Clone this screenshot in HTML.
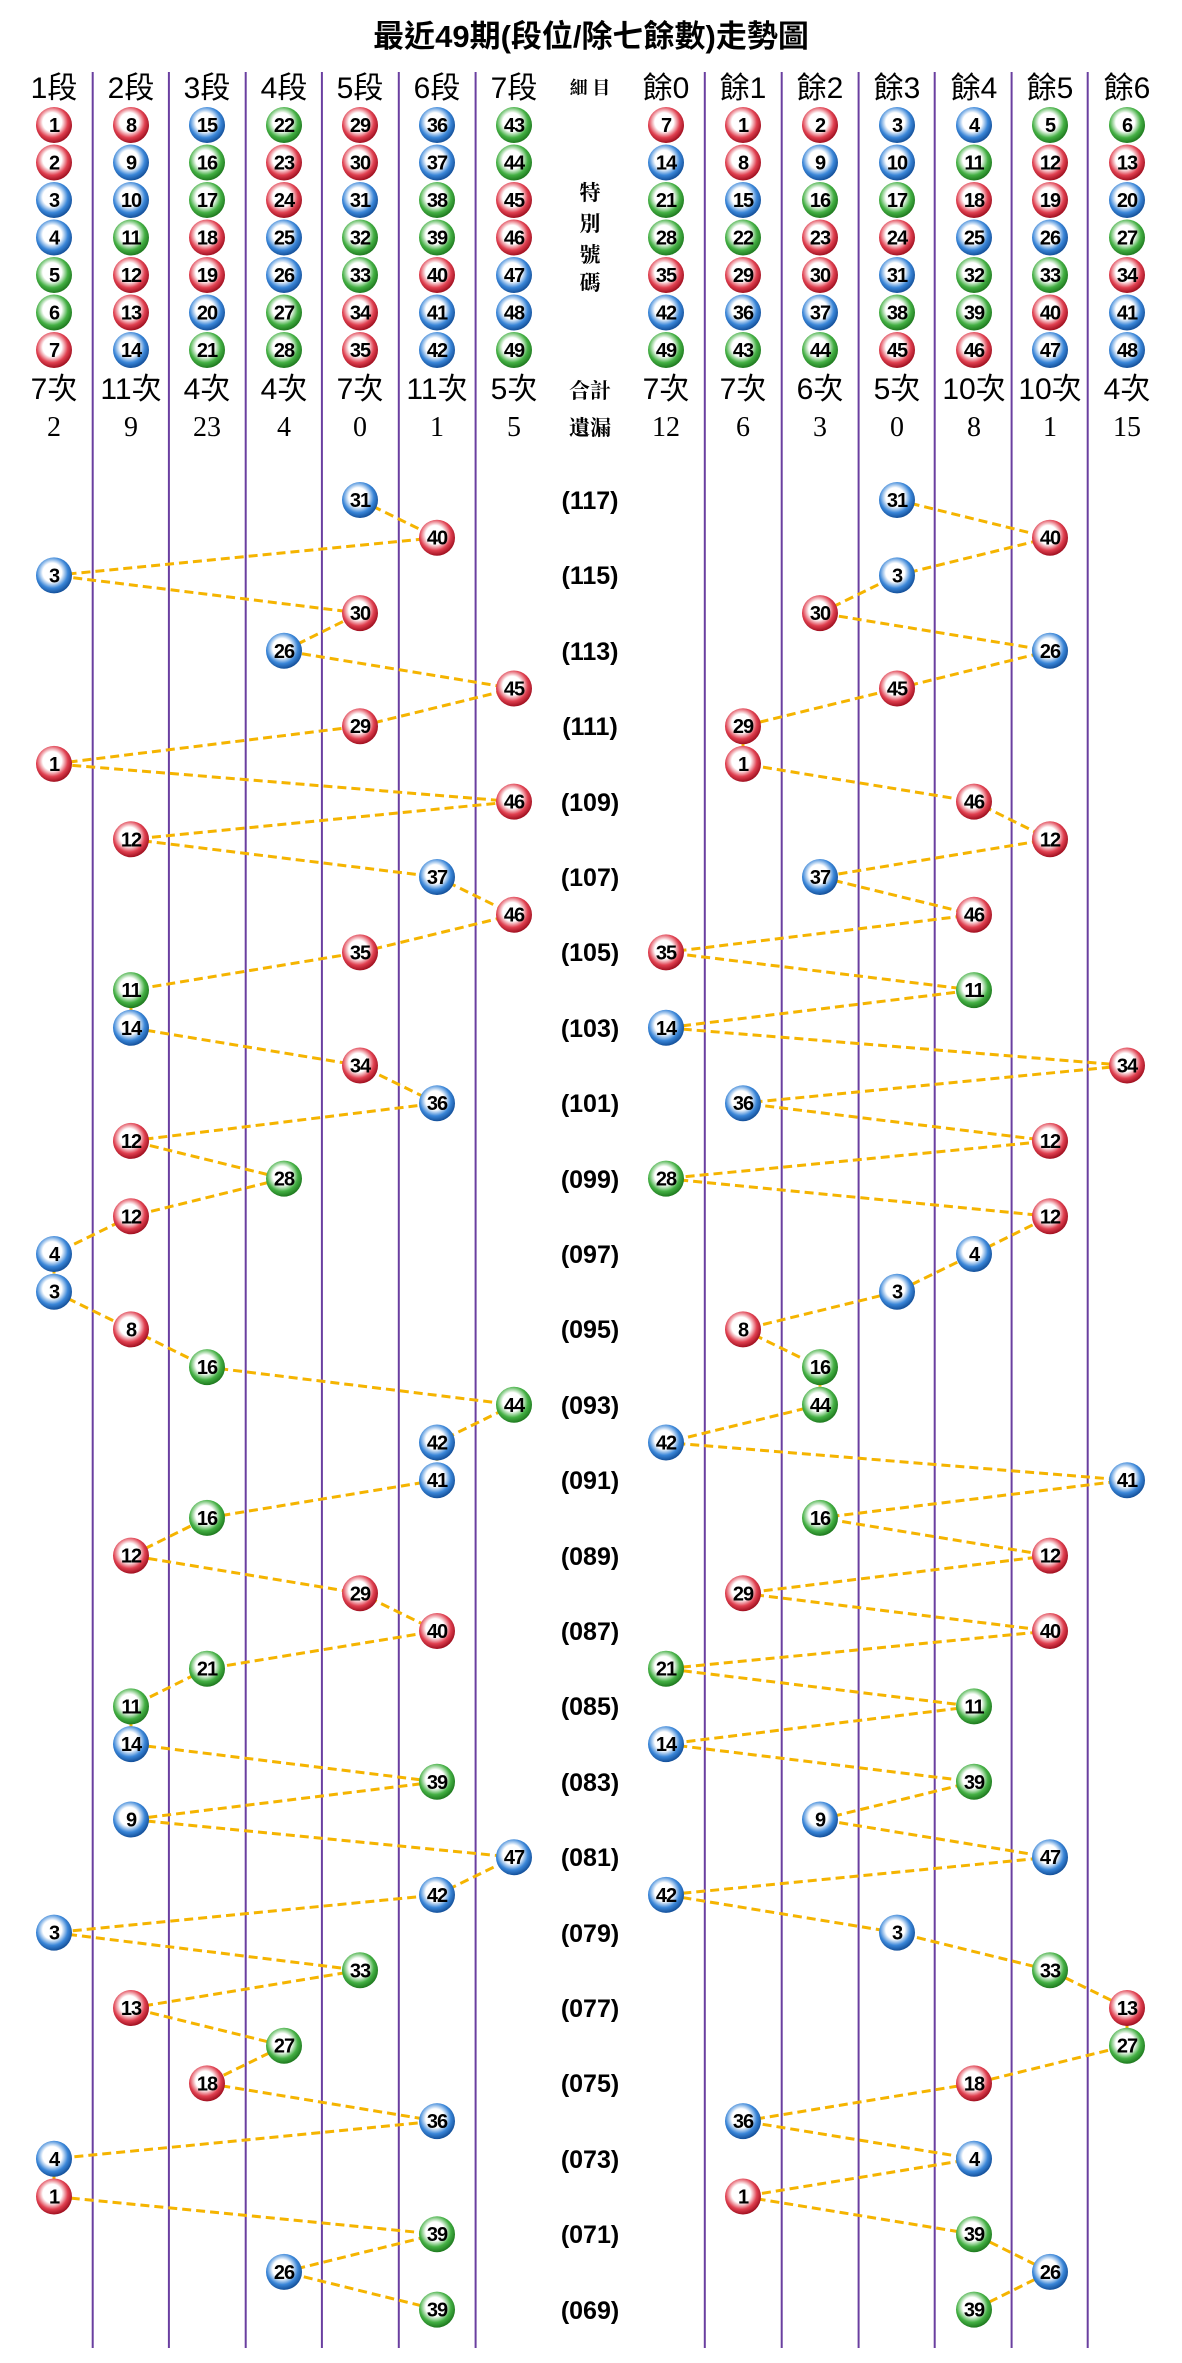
<!DOCTYPE html>
<html><head><meta charset="utf-8"><style>
html,body{margin:0;padding:0;background:#fff}
svg{display:block}
.n{font:bold 20px "Liberation Sans Narrow","Liberation Sans",sans-serif;letter-spacing:-1px;text-anchor:middle;fill:#000}
.h{font:30px "Liberation Sans","Noto Sans CJK TC",sans-serif;text-anchor:middle}
.s{font:bold 21px "Liberation Serif","Noto Serif CJK SC",serif;text-anchor:middle}
.m{font:28px "Liberation Serif",serif;text-anchor:middle}
.p{font:bold 25px "Liberation Sans",sans-serif;text-anchor:middle}
.t{font:bold 31px "Liberation Sans","Noto Sans CJK TC",sans-serif;text-anchor:middle}
.R{fill:url(#R)}.B{fill:url(#B)}.G{fill:url(#G)}
</style></head><body>
<svg width="1182" height="2363" viewBox="0 0 1182 2363" xmlns="http://www.w3.org/2000/svg">
<defs>
<radialGradient id="R" cx="45%" cy="42%" r="58%"><stop offset="0" stop-color="#fff"/><stop offset=".45" stop-color="#fff"/><stop offset=".75" stop-color="#e04050"/><stop offset="1" stop-color="#a01020"/></radialGradient>
<radialGradient id="B" cx="45%" cy="42%" r="58%"><stop offset="0" stop-color="#fff"/><stop offset=".45" stop-color="#fff"/><stop offset=".75" stop-color="#3a86d8"/><stop offset="1" stop-color="#14509a"/></radialGradient>
<radialGradient id="G" cx="45%" cy="42%" r="58%"><stop offset="0" stop-color="#fff"/><stop offset=".45" stop-color="#fff"/><stop offset=".75" stop-color="#44b044"/><stop offset="1" stop-color="#1f7a1f"/></radialGradient>
</defs>
<text class="t" x="591" y="47">最近49期(段位/除七餘數)走勢圖</text>
<g stroke="#6a3fa0" stroke-width="2">
<line x1="92.7" y1="72" x2="92.7" y2="2348"/><line x1="168.9" y1="72" x2="168.9" y2="2348"/><line x1="245.7" y1="72" x2="245.7" y2="2348"/><line x1="321.9" y1="72" x2="321.9" y2="2348"/><line x1="398.8" y1="72" x2="398.8" y2="2348"/><line x1="475.6" y1="72" x2="475.6" y2="2348"/>
<line x1="704.8" y1="72" x2="704.8" y2="2348"/><line x1="781.7" y1="72" x2="781.7" y2="2348"/><line x1="858.6" y1="72" x2="858.6" y2="2348"/><line x1="934.7" y1="72" x2="934.7" y2="2348"/><line x1="1011.6" y1="72" x2="1011.6" y2="2348"/><line x1="1087.7" y1="72" x2="1087.7" y2="2348"/>
</g>
<g class="h">
<text x="54" y="98">1段</text><text x="131" y="98">2段</text><text x="207" y="98">3段</text><text x="284" y="98">4段</text><text x="360" y="98">5段</text><text x="437" y="98">6段</text><text x="514" y="98">7段</text>
<text x="666" y="98">餘0</text><text x="743" y="98">餘1</text><text x="820" y="98">餘2</text><text x="897" y="98">餘3</text><text x="974" y="98">餘4</text><text x="1050" y="98">餘5</text><text x="1127" y="98">餘6</text>
<text x="54" y="399">7次</text><text x="131" y="399">11次</text><text x="207" y="399">4次</text><text x="284" y="399">4次</text><text x="360" y="399">7次</text><text x="437" y="399">11次</text><text x="514" y="399">5次</text>
<text x="666" y="399">7次</text><text x="743" y="399">7次</text><text x="820" y="399">6次</text><text x="897" y="399">5次</text><text x="974" y="399">10次</text><text x="1050" y="399">10次</text><text x="1127" y="399">4次</text>
</g>
<g class="m">
<text x="54" y="436">2</text><text x="131" y="436">9</text><text x="207" y="436">23</text><text x="284" y="436">4</text><text x="360" y="436">0</text><text x="437" y="436">1</text><text x="514" y="436">5</text>
<text x="666" y="436">12</text><text x="743" y="436">6</text><text x="820" y="436">3</text><text x="897" y="436">0</text><text x="974" y="436">8</text><text x="1050" y="436">1</text><text x="1127" y="436">15</text>
</g>
<g class="s">
<text x="590" y="94" style="font-size:18px">細 目</text>
<text x="590" y="200">特</text><text x="590" y="231">別</text><text x="590" y="262">號</text><text x="590" y="290">碼</text>
<text x="590" y="398">合計</text><text x="590" y="435">遺漏</text>
</g>
<g>
<circle class="R" cx="54" cy="125" r="18"/><text class="n" x="54" y="132">1</text>
<circle class="R" cx="54" cy="162.5" r="18"/><text class="n" x="54" y="169.5">2</text>
<circle class="B" cx="54" cy="200" r="18"/><text class="n" x="54" y="207">3</text>
<circle class="B" cx="54" cy="237.5" r="18"/><text class="n" x="54" y="244.5">4</text>
<circle class="G" cx="54" cy="275" r="18"/><text class="n" x="54" y="282">5</text>
<circle class="G" cx="54" cy="312.5" r="18"/><text class="n" x="54" y="319.5">6</text>
<circle class="R" cx="54" cy="350" r="18"/><text class="n" x="54" y="357">7</text>
<circle class="R" cx="131" cy="125" r="18"/><text class="n" x="131" y="132">8</text>
<circle class="B" cx="131" cy="162.5" r="18"/><text class="n" x="131" y="169.5">9</text>
<circle class="B" cx="131" cy="200" r="18"/><text class="n" x="131" y="207">10</text>
<circle class="G" cx="131" cy="237.5" r="18"/><text class="n" x="131" y="244.5">11</text>
<circle class="R" cx="131" cy="275" r="18"/><text class="n" x="131" y="282">12</text>
<circle class="R" cx="131" cy="312.5" r="18"/><text class="n" x="131" y="319.5">13</text>
<circle class="B" cx="131" cy="350" r="18"/><text class="n" x="131" y="357">14</text>
<circle class="B" cx="207" cy="125" r="18"/><text class="n" x="207" y="132">15</text>
<circle class="G" cx="207" cy="162.5" r="18"/><text class="n" x="207" y="169.5">16</text>
<circle class="G" cx="207" cy="200" r="18"/><text class="n" x="207" y="207">17</text>
<circle class="R" cx="207" cy="237.5" r="18"/><text class="n" x="207" y="244.5">18</text>
<circle class="R" cx="207" cy="275" r="18"/><text class="n" x="207" y="282">19</text>
<circle class="B" cx="207" cy="312.5" r="18"/><text class="n" x="207" y="319.5">20</text>
<circle class="G" cx="207" cy="350" r="18"/><text class="n" x="207" y="357">21</text>
<circle class="G" cx="284" cy="125" r="18"/><text class="n" x="284" y="132">22</text>
<circle class="R" cx="284" cy="162.5" r="18"/><text class="n" x="284" y="169.5">23</text>
<circle class="R" cx="284" cy="200" r="18"/><text class="n" x="284" y="207">24</text>
<circle class="B" cx="284" cy="237.5" r="18"/><text class="n" x="284" y="244.5">25</text>
<circle class="B" cx="284" cy="275" r="18"/><text class="n" x="284" y="282">26</text>
<circle class="G" cx="284" cy="312.5" r="18"/><text class="n" x="284" y="319.5">27</text>
<circle class="G" cx="284" cy="350" r="18"/><text class="n" x="284" y="357">28</text>
<circle class="R" cx="360" cy="125" r="18"/><text class="n" x="360" y="132">29</text>
<circle class="R" cx="360" cy="162.5" r="18"/><text class="n" x="360" y="169.5">30</text>
<circle class="B" cx="360" cy="200" r="18"/><text class="n" x="360" y="207">31</text>
<circle class="G" cx="360" cy="237.5" r="18"/><text class="n" x="360" y="244.5">32</text>
<circle class="G" cx="360" cy="275" r="18"/><text class="n" x="360" y="282">33</text>
<circle class="R" cx="360" cy="312.5" r="18"/><text class="n" x="360" y="319.5">34</text>
<circle class="R" cx="360" cy="350" r="18"/><text class="n" x="360" y="357">35</text>
<circle class="B" cx="437" cy="125" r="18"/><text class="n" x="437" y="132">36</text>
<circle class="B" cx="437" cy="162.5" r="18"/><text class="n" x="437" y="169.5">37</text>
<circle class="G" cx="437" cy="200" r="18"/><text class="n" x="437" y="207">38</text>
<circle class="G" cx="437" cy="237.5" r="18"/><text class="n" x="437" y="244.5">39</text>
<circle class="R" cx="437" cy="275" r="18"/><text class="n" x="437" y="282">40</text>
<circle class="B" cx="437" cy="312.5" r="18"/><text class="n" x="437" y="319.5">41</text>
<circle class="B" cx="437" cy="350" r="18"/><text class="n" x="437" y="357">42</text>
<circle class="G" cx="514" cy="125" r="18"/><text class="n" x="514" y="132">43</text>
<circle class="G" cx="514" cy="162.5" r="18"/><text class="n" x="514" y="169.5">44</text>
<circle class="R" cx="514" cy="200" r="18"/><text class="n" x="514" y="207">45</text>
<circle class="R" cx="514" cy="237.5" r="18"/><text class="n" x="514" y="244.5">46</text>
<circle class="B" cx="514" cy="275" r="18"/><text class="n" x="514" y="282">47</text>
<circle class="B" cx="514" cy="312.5" r="18"/><text class="n" x="514" y="319.5">48</text>
<circle class="G" cx="514" cy="350" r="18"/><text class="n" x="514" y="357">49</text>
</g>
<g>
<circle class="R" cx="666" cy="125" r="18"/><text class="n" x="666" y="132">7</text>
<circle class="B" cx="666" cy="162.5" r="18"/><text class="n" x="666" y="169.5">14</text>
<circle class="G" cx="666" cy="200" r="18"/><text class="n" x="666" y="207">21</text>
<circle class="G" cx="666" cy="237.5" r="18"/><text class="n" x="666" y="244.5">28</text>
<circle class="R" cx="666" cy="275" r="18"/><text class="n" x="666" y="282">35</text>
<circle class="B" cx="666" cy="312.5" r="18"/><text class="n" x="666" y="319.5">42</text>
<circle class="G" cx="666" cy="350" r="18"/><text class="n" x="666" y="357">49</text>
<circle class="R" cx="743" cy="125" r="18"/><text class="n" x="743" y="132">1</text>
<circle class="R" cx="743" cy="162.5" r="18"/><text class="n" x="743" y="169.5">8</text>
<circle class="B" cx="743" cy="200" r="18"/><text class="n" x="743" y="207">15</text>
<circle class="G" cx="743" cy="237.5" r="18"/><text class="n" x="743" y="244.5">22</text>
<circle class="R" cx="743" cy="275" r="18"/><text class="n" x="743" y="282">29</text>
<circle class="B" cx="743" cy="312.5" r="18"/><text class="n" x="743" y="319.5">36</text>
<circle class="G" cx="743" cy="350" r="18"/><text class="n" x="743" y="357">43</text>
<circle class="R" cx="820" cy="125" r="18"/><text class="n" x="820" y="132">2</text>
<circle class="B" cx="820" cy="162.5" r="18"/><text class="n" x="820" y="169.5">9</text>
<circle class="G" cx="820" cy="200" r="18"/><text class="n" x="820" y="207">16</text>
<circle class="R" cx="820" cy="237.5" r="18"/><text class="n" x="820" y="244.5">23</text>
<circle class="R" cx="820" cy="275" r="18"/><text class="n" x="820" y="282">30</text>
<circle class="B" cx="820" cy="312.5" r="18"/><text class="n" x="820" y="319.5">37</text>
<circle class="G" cx="820" cy="350" r="18"/><text class="n" x="820" y="357">44</text>
<circle class="B" cx="897" cy="125" r="18"/><text class="n" x="897" y="132">3</text>
<circle class="B" cx="897" cy="162.5" r="18"/><text class="n" x="897" y="169.5">10</text>
<circle class="G" cx="897" cy="200" r="18"/><text class="n" x="897" y="207">17</text>
<circle class="R" cx="897" cy="237.5" r="18"/><text class="n" x="897" y="244.5">24</text>
<circle class="B" cx="897" cy="275" r="18"/><text class="n" x="897" y="282">31</text>
<circle class="G" cx="897" cy="312.5" r="18"/><text class="n" x="897" y="319.5">38</text>
<circle class="R" cx="897" cy="350" r="18"/><text class="n" x="897" y="357">45</text>
<circle class="B" cx="974" cy="125" r="18"/><text class="n" x="974" y="132">4</text>
<circle class="G" cx="974" cy="162.5" r="18"/><text class="n" x="974" y="169.5">11</text>
<circle class="R" cx="974" cy="200" r="18"/><text class="n" x="974" y="207">18</text>
<circle class="B" cx="974" cy="237.5" r="18"/><text class="n" x="974" y="244.5">25</text>
<circle class="G" cx="974" cy="275" r="18"/><text class="n" x="974" y="282">32</text>
<circle class="G" cx="974" cy="312.5" r="18"/><text class="n" x="974" y="319.5">39</text>
<circle class="R" cx="974" cy="350" r="18"/><text class="n" x="974" y="357">46</text>
<circle class="G" cx="1050" cy="125" r="18"/><text class="n" x="1050" y="132">5</text>
<circle class="R" cx="1050" cy="162.5" r="18"/><text class="n" x="1050" y="169.5">12</text>
<circle class="R" cx="1050" cy="200" r="18"/><text class="n" x="1050" y="207">19</text>
<circle class="B" cx="1050" cy="237.5" r="18"/><text class="n" x="1050" y="244.5">26</text>
<circle class="G" cx="1050" cy="275" r="18"/><text class="n" x="1050" y="282">33</text>
<circle class="R" cx="1050" cy="312.5" r="18"/><text class="n" x="1050" y="319.5">40</text>
<circle class="B" cx="1050" cy="350" r="18"/><text class="n" x="1050" y="357">47</text>
<circle class="G" cx="1127" cy="125" r="18"/><text class="n" x="1127" y="132">6</text>
<circle class="R" cx="1127" cy="162.5" r="18"/><text class="n" x="1127" y="169.5">13</text>
<circle class="B" cx="1127" cy="200" r="18"/><text class="n" x="1127" y="207">20</text>
<circle class="G" cx="1127" cy="237.5" r="18"/><text class="n" x="1127" y="244.5">27</text>
<circle class="R" cx="1127" cy="275" r="18"/><text class="n" x="1127" y="282">34</text>
<circle class="B" cx="1127" cy="312.5" r="18"/><text class="n" x="1127" y="319.5">41</text>
<circle class="B" cx="1127" cy="350" r="18"/><text class="n" x="1127" y="357">48</text>
</g>
<g class="p">
<text x="590" y="509">(117)</text><text x="590" y="584">(115)</text><text x="590" y="660">(113)</text><text x="590" y="735">(111)</text><text x="590" y="811">(109)</text><text x="590" y="886">(107)</text><text x="590" y="961">(105)</text><text x="590" y="1037">(103)</text><text x="590" y="1112">(101)</text><text x="590" y="1188">(099)</text><text x="590" y="1263">(097)</text><text x="590" y="1338">(095)</text><text x="590" y="1414">(093)</text><text x="590" y="1489">(091)</text><text x="590" y="1565">(089)</text><text x="590" y="1640">(087)</text><text x="590" y="1715">(085)</text><text x="590" y="1791">(083)</text><text x="590" y="1866">(081)</text><text x="590" y="1942">(079)</text><text x="590" y="2017">(077)</text><text x="590" y="2092">(075)</text><text x="590" y="2168">(073)</text><text x="590" y="2243">(071)</text><text x="590" y="2319">(069)</text>
</g>
<g fill="none" stroke="#f5b400" stroke-width="3" stroke-dasharray="9 5">
<polyline points="360,500 437,537.7 54,575.4 360,613.1 284,650.8 514,688.5 360,726.2 54,763.9 514,801.6 131,839.3 437,877 514,914.7 360,952.4 131,990.1 131,1027.8 360,1065.5 437,1103.2 131,1140.9 284,1178.6 131,1216.3 54,1254 54,1291.7 131,1329.4 207,1367.1 514,1404.8 437,1442.5 437,1480.2 207,1517.9 131,1555.6 360,1593.3 437,1631 207,1668.7 131,1706.4 131,1744.1 437,1781.8 131,1819.5 514,1857.2 437,1894.9 54,1932.6 360,1970.3 131,2008 284,2045.7 207,2083.4 437,2121.1 54,2158.8 54,2196.5 437,2234.2 284,2271.9 437,2309.6"/>
<polyline points="897,500 1050,537.7 897,575.4 820,613.1 1050,650.8 897,688.5 743,726.2 743,763.9 974,801.6 1050,839.3 820,877 974,914.7 666,952.4 974,990.1 666,1027.8 1127,1065.5 743,1103.2 1050,1140.9 666,1178.6 1050,1216.3 974,1254 897,1291.7 743,1329.4 820,1367.1 820,1404.8 666,1442.5 1127,1480.2 820,1517.9 1050,1555.6 743,1593.3 1050,1631 666,1668.7 974,1706.4 666,1744.1 974,1781.8 820,1819.5 1050,1857.2 666,1894.9 897,1932.6 1050,1970.3 1127,2008 1127,2045.7 974,2083.4 743,2121.1 974,2158.8 743,2196.5 974,2234.2 1050,2271.9 974,2309.6"/>
</g>
<g>
<circle class="B" cx="360" cy="500" r="18"/><text class="n" x="360" y="507">31</text>
<circle class="R" cx="437" cy="537.7" r="18"/><text class="n" x="437" y="544.7">40</text>
<circle class="B" cx="54" cy="575.4" r="18"/><text class="n" x="54" y="582.4">3</text>
<circle class="R" cx="360" cy="613.1" r="18"/><text class="n" x="360" y="620.1">30</text>
<circle class="B" cx="284" cy="650.8" r="18"/><text class="n" x="284" y="657.8">26</text>
<circle class="R" cx="514" cy="688.5" r="18"/><text class="n" x="514" y="695.5">45</text>
<circle class="R" cx="360" cy="726.2" r="18"/><text class="n" x="360" y="733.2">29</text>
<circle class="R" cx="54" cy="763.9" r="18"/><text class="n" x="54" y="770.9">1</text>
<circle class="R" cx="514" cy="801.6" r="18"/><text class="n" x="514" y="808.6">46</text>
<circle class="R" cx="131" cy="839.3" r="18"/><text class="n" x="131" y="846.3">12</text>
<circle class="B" cx="437" cy="877" r="18"/><text class="n" x="437" y="884">37</text>
<circle class="R" cx="514" cy="914.7" r="18"/><text class="n" x="514" y="921.7">46</text>
<circle class="R" cx="360" cy="952.4" r="18"/><text class="n" x="360" y="959.4">35</text>
<circle class="G" cx="131" cy="990.1" r="18"/><text class="n" x="131" y="997.1">11</text>
<circle class="B" cx="131" cy="1027.8" r="18"/><text class="n" x="131" y="1034.8">14</text>
<circle class="R" cx="360" cy="1065.5" r="18"/><text class="n" x="360" y="1072.5">34</text>
<circle class="B" cx="437" cy="1103.2" r="18"/><text class="n" x="437" y="1110.2">36</text>
<circle class="R" cx="131" cy="1140.9" r="18"/><text class="n" x="131" y="1147.9">12</text>
<circle class="G" cx="284" cy="1178.6" r="18"/><text class="n" x="284" y="1185.6">28</text>
<circle class="R" cx="131" cy="1216.3" r="18"/><text class="n" x="131" y="1223.3">12</text>
<circle class="B" cx="54" cy="1254" r="18"/><text class="n" x="54" y="1261">4</text>
<circle class="B" cx="54" cy="1291.7" r="18"/><text class="n" x="54" y="1298.7">3</text>
<circle class="R" cx="131" cy="1329.4" r="18"/><text class="n" x="131" y="1336.4">8</text>
<circle class="G" cx="207" cy="1367.1" r="18"/><text class="n" x="207" y="1374.1">16</text>
<circle class="G" cx="514" cy="1404.8" r="18"/><text class="n" x="514" y="1411.8">44</text>
<circle class="B" cx="437" cy="1442.5" r="18"/><text class="n" x="437" y="1449.5">42</text>
<circle class="B" cx="437" cy="1480.2" r="18"/><text class="n" x="437" y="1487.2">41</text>
<circle class="G" cx="207" cy="1517.9" r="18"/><text class="n" x="207" y="1524.9">16</text>
<circle class="R" cx="131" cy="1555.6" r="18"/><text class="n" x="131" y="1562.6">12</text>
<circle class="R" cx="360" cy="1593.3" r="18"/><text class="n" x="360" y="1600.3">29</text>
<circle class="R" cx="437" cy="1631" r="18"/><text class="n" x="437" y="1638">40</text>
<circle class="G" cx="207" cy="1668.7" r="18"/><text class="n" x="207" y="1675.7">21</text>
<circle class="G" cx="131" cy="1706.4" r="18"/><text class="n" x="131" y="1713.4">11</text>
<circle class="B" cx="131" cy="1744.1" r="18"/><text class="n" x="131" y="1751.1">14</text>
<circle class="G" cx="437" cy="1781.8" r="18"/><text class="n" x="437" y="1788.8">39</text>
<circle class="B" cx="131" cy="1819.5" r="18"/><text class="n" x="131" y="1826.5">9</text>
<circle class="B" cx="514" cy="1857.2" r="18"/><text class="n" x="514" y="1864.2">47</text>
<circle class="B" cx="437" cy="1894.9" r="18"/><text class="n" x="437" y="1901.9">42</text>
<circle class="B" cx="54" cy="1932.6" r="18"/><text class="n" x="54" y="1939.6">3</text>
<circle class="G" cx="360" cy="1970.3" r="18"/><text class="n" x="360" y="1977.3">33</text>
<circle class="R" cx="131" cy="2008" r="18"/><text class="n" x="131" y="2015">13</text>
<circle class="G" cx="284" cy="2045.7" r="18"/><text class="n" x="284" y="2052.7">27</text>
<circle class="R" cx="207" cy="2083.4" r="18"/><text class="n" x="207" y="2090.4">18</text>
<circle class="B" cx="437" cy="2121.1" r="18"/><text class="n" x="437" y="2128.1">36</text>
<circle class="B" cx="54" cy="2158.8" r="18"/><text class="n" x="54" y="2165.8">4</text>
<circle class="R" cx="54" cy="2196.5" r="18"/><text class="n" x="54" y="2203.5">1</text>
<circle class="G" cx="437" cy="2234.2" r="18"/><text class="n" x="437" y="2241.2">39</text>
<circle class="B" cx="284" cy="2271.9" r="18"/><text class="n" x="284" y="2278.9">26</text>
<circle class="G" cx="437" cy="2309.6" r="18"/><text class="n" x="437" y="2316.6">39</text>
</g>
<g>
<circle class="B" cx="897" cy="500" r="18"/><text class="n" x="897" y="507">31</text>
<circle class="R" cx="1050" cy="537.7" r="18"/><text class="n" x="1050" y="544.7">40</text>
<circle class="B" cx="897" cy="575.4" r="18"/><text class="n" x="897" y="582.4">3</text>
<circle class="R" cx="820" cy="613.1" r="18"/><text class="n" x="820" y="620.1">30</text>
<circle class="B" cx="1050" cy="650.8" r="18"/><text class="n" x="1050" y="657.8">26</text>
<circle class="R" cx="897" cy="688.5" r="18"/><text class="n" x="897" y="695.5">45</text>
<circle class="R" cx="743" cy="726.2" r="18"/><text class="n" x="743" y="733.2">29</text>
<circle class="R" cx="743" cy="763.9" r="18"/><text class="n" x="743" y="770.9">1</text>
<circle class="R" cx="974" cy="801.6" r="18"/><text class="n" x="974" y="808.6">46</text>
<circle class="R" cx="1050" cy="839.3" r="18"/><text class="n" x="1050" y="846.3">12</text>
<circle class="B" cx="820" cy="877" r="18"/><text class="n" x="820" y="884">37</text>
<circle class="R" cx="974" cy="914.7" r="18"/><text class="n" x="974" y="921.7">46</text>
<circle class="R" cx="666" cy="952.4" r="18"/><text class="n" x="666" y="959.4">35</text>
<circle class="G" cx="974" cy="990.1" r="18"/><text class="n" x="974" y="997.1">11</text>
<circle class="B" cx="666" cy="1027.8" r="18"/><text class="n" x="666" y="1034.8">14</text>
<circle class="R" cx="1127" cy="1065.5" r="18"/><text class="n" x="1127" y="1072.5">34</text>
<circle class="B" cx="743" cy="1103.2" r="18"/><text class="n" x="743" y="1110.2">36</text>
<circle class="R" cx="1050" cy="1140.9" r="18"/><text class="n" x="1050" y="1147.9">12</text>
<circle class="G" cx="666" cy="1178.6" r="18"/><text class="n" x="666" y="1185.6">28</text>
<circle class="R" cx="1050" cy="1216.3" r="18"/><text class="n" x="1050" y="1223.3">12</text>
<circle class="B" cx="974" cy="1254" r="18"/><text class="n" x="974" y="1261">4</text>
<circle class="B" cx="897" cy="1291.7" r="18"/><text class="n" x="897" y="1298.7">3</text>
<circle class="R" cx="743" cy="1329.4" r="18"/><text class="n" x="743" y="1336.4">8</text>
<circle class="G" cx="820" cy="1367.1" r="18"/><text class="n" x="820" y="1374.1">16</text>
<circle class="G" cx="820" cy="1404.8" r="18"/><text class="n" x="820" y="1411.8">44</text>
<circle class="B" cx="666" cy="1442.5" r="18"/><text class="n" x="666" y="1449.5">42</text>
<circle class="B" cx="1127" cy="1480.2" r="18"/><text class="n" x="1127" y="1487.2">41</text>
<circle class="G" cx="820" cy="1517.9" r="18"/><text class="n" x="820" y="1524.9">16</text>
<circle class="R" cx="1050" cy="1555.6" r="18"/><text class="n" x="1050" y="1562.6">12</text>
<circle class="R" cx="743" cy="1593.3" r="18"/><text class="n" x="743" y="1600.3">29</text>
<circle class="R" cx="1050" cy="1631" r="18"/><text class="n" x="1050" y="1638">40</text>
<circle class="G" cx="666" cy="1668.7" r="18"/><text class="n" x="666" y="1675.7">21</text>
<circle class="G" cx="974" cy="1706.4" r="18"/><text class="n" x="974" y="1713.4">11</text>
<circle class="B" cx="666" cy="1744.1" r="18"/><text class="n" x="666" y="1751.1">14</text>
<circle class="G" cx="974" cy="1781.8" r="18"/><text class="n" x="974" y="1788.8">39</text>
<circle class="B" cx="820" cy="1819.5" r="18"/><text class="n" x="820" y="1826.5">9</text>
<circle class="B" cx="1050" cy="1857.2" r="18"/><text class="n" x="1050" y="1864.2">47</text>
<circle class="B" cx="666" cy="1894.9" r="18"/><text class="n" x="666" y="1901.9">42</text>
<circle class="B" cx="897" cy="1932.6" r="18"/><text class="n" x="897" y="1939.6">3</text>
<circle class="G" cx="1050" cy="1970.3" r="18"/><text class="n" x="1050" y="1977.3">33</text>
<circle class="R" cx="1127" cy="2008" r="18"/><text class="n" x="1127" y="2015">13</text>
<circle class="G" cx="1127" cy="2045.7" r="18"/><text class="n" x="1127" y="2052.7">27</text>
<circle class="R" cx="974" cy="2083.4" r="18"/><text class="n" x="974" y="2090.4">18</text>
<circle class="B" cx="743" cy="2121.1" r="18"/><text class="n" x="743" y="2128.1">36</text>
<circle class="B" cx="974" cy="2158.8" r="18"/><text class="n" x="974" y="2165.8">4</text>
<circle class="R" cx="743" cy="2196.5" r="18"/><text class="n" x="743" y="2203.5">1</text>
<circle class="G" cx="974" cy="2234.2" r="18"/><text class="n" x="974" y="2241.2">39</text>
<circle class="B" cx="1050" cy="2271.9" r="18"/><text class="n" x="1050" y="2278.9">26</text>
<circle class="G" cx="974" cy="2309.6" r="18"/><text class="n" x="974" y="2316.6">39</text>
</g>
</svg>
</body></html>
